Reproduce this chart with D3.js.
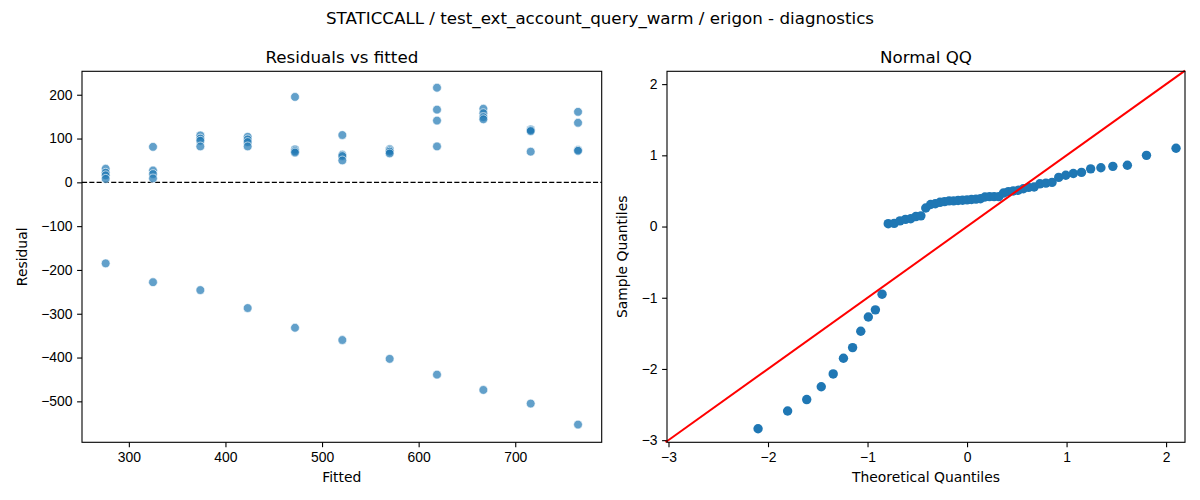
<!DOCTYPE html>
<html>
<head>
<meta charset="utf-8">
<script src="https://cdn.jsdelivr.net/npm/d3@7"></script>
<style>
  body { margin: 0; background: #fff; }
  svg { font-family: "DejaVu Sans", sans-serif; }
  .tick text { font-size: 13.9px; fill: #000; }
  .domain, .tick line { stroke: #000; stroke-width: 1.1px; }
</style>
</head>
<body>
<div class="chart"></div>
<script>
// fitted values (one per configuration)
var fitted = [276, 325, 374, 423, 472, 521, 570, 619, 667, 716, 765];

// residuals for each fitted value, 5 runs each
var residuals = [
  [31, 22, 16, 8, -185],
  [81, 27, 19, 9, -228],
  [107, 100, 95, 82, -246],
  [104, 98, 92, 82, -287],
  [195, 75, 71, 68, -332],
  [108, 63, 60, 50, -360],
  [76, 73, 70, 66, -403],
  [216, 166, 141, 82, -439],
  [168, 158, 149, 144, -474],
  [121, 119, 117, 70, -505],
  [161, 136, 74, 72, -553]
];

// normal QQ: theoretical quantiles and ordered standardized residuals
var theoretical = [
  -2.100, -1.803, -1.611, -1.465, -1.345, -1.242, -1.150, -1.068, -0.992, -0.921, -0.854,
  -0.792, -0.732, -0.674, -0.619, -0.566, -0.514, -0.464, -0.415, -0.366, -0.319, -0.272,
  -0.226, -0.180, -0.135, -0.090, -0.045, 0, 0.045, 0.090, 0.135, 0.180, 0.226,
  0.272, 0.319, 0.366, 0.415, 0.464, 0.514, 0.566, 0.619, 0.674, 0.732, 0.792,
  0.854, 0.921, 0.992, 1.068, 1.150, 1.242, 1.345, 1.465, 1.611, 1.803, 2.100
];
var sampleQ = [
  -2.84, -2.59, -2.43, -2.25, -2.07, -1.85, -1.70, -1.47, -1.27, -1.17, -0.95,
  0.04, 0.045, 0.08, 0.10, 0.11, 0.14, 0.15, 0.26, 0.31, 0.32, 0.34,
  0.35, 0.36, 0.36, 0.365, 0.37, 0.375, 0.38, 0.385, 0.39, 0.415, 0.42,
  0.42, 0.42, 0.47, 0.49, 0.50, 0.51, 0.53, 0.55, 0.555, 0.60, 0.61,
  0.62, 0.69, 0.72, 0.745, 0.76, 0.81, 0.825, 0.845, 0.86, 1.00, 1.10
];

var residTicks = [-500, -400, -300, -200, -100, 0, 100, 200];
var fittedTicks = [300, 400, 500, 600, 700];
var qqTicks = [-3, -2, -1, 0, 1, 2];

var suptitle = 'STATICCALL / test_ext_account_query_warm / erigon - diagnostics';

var width = 1200, height = 500;
var plotTop = 71.3, plotBottom = 442.3;

var fmt = function (d) {
    return String(d).replace('-', '\u2212');
};

var svg = d3.select('.chart')
    .append('svg')
    .attr('width', width)
    .attr('height', height);

svg.append('text')
    .attr('x', 600)
    .attr('y', 24)
    .attr('text-anchor', 'middle')
    .style('font-size', '16.7px')
    .text(suptitle);

function frame(x, y, xTicks, yTicks, left, right, title, xLabel, yLabel, yLabelX) {
    var g = svg.append('g');

    g.append('g')
        .attr('transform', 'translate(0,' + plotBottom + ')')
        .call(d3.axisBottom(x).tickValues(xTicks).tickFormat(fmt)
            .tickSizeInner(4.9).tickSizeOuter(0).tickPadding(4.6));

    g.append('g')
        .attr('transform', 'translate(' + left + ',0)')
        .call(d3.axisLeft(y).tickValues(yTicks).tickFormat(fmt)
            .tickSizeInner(4.9).tickSizeOuter(0).tickPadding(4.6));

    g.selectAll('.domain').remove();

    g.append('text')
        .attr('x', (left + right) / 2)
        .attr('y', 63)
        .attr('text-anchor', 'middle')
        .style('font-size', '16.7px')
        .text(title);

    g.append('text')
        .attr('x', (left + right) / 2)
        .attr('y', 482)
        .attr('text-anchor', 'middle')
        .style('font-size', '13.9px')
        .text(xLabel);

    g.append('text')
        .attr('transform', 'translate(' + yLabelX + ',' + ((plotTop + plotBottom) / 2) + ') rotate(-90)')
        .attr('text-anchor', 'middle')
        .style('font-size', '13.9px')
        .text(yLabel);

    return g;
}

function border(left, right) {
    svg.append('rect')
        .attr('x', left)
        .attr('y', plotTop)
        .attr('width', right - left)
        .attr('height', plotBottom - plotTop)
        .attr('fill', 'none')
        .attr('stroke', '#000')
        .attr('stroke-width', 1.1);
}

// ---- residuals vs fitted ----
var lx = d3.scaleLinear().domain([251.5, 789.5]).range([82, 601.7]);
var ly = d3.scaleLinear().domain([-593.5, 253.5]).range([plotBottom, plotTop]);

var g1 = frame(lx, ly, fittedTicks, residTicks, 82, 601.7,
    'Residuals vs fitted', 'Fitted', 'Residual', 27);

g1.append('line')
    .attr('x1', lx.range()[0])
    .attr('x2', lx.range()[1])
    .attr('y1', ly(0))
    .attr('y2', ly(0))
    .attr('stroke', '#000')
    .attr('stroke-width', 1.4)
    .attr('stroke-dasharray', '5.1,2.2');

var pts = [];
fitted.forEach(function (f, i) {
    residuals[i].forEach(function (r) {
        pts.push({ x: f, y: r });
    });
});

g1.selectAll('circle')
    .data(pts)
    .enter()
    .append('circle')
    .attr('cx', function (d) { return lx(d.x); })
    .attr('cy', function (d) { return ly(d.y); })
    .attr('r', 4.4)
    .attr('fill', 'rgba(31,119,180,0.7)')
    .attr('stroke', 'rgba(255,255,255,0.7)')
    .attr('stroke-width', 0.9);

border(82, 601.7);

// ---- normal QQ ----
var qx = d3.scaleLinear().domain([-3.015, 2.19]).range([667, 1185]);
var qy = d3.scaleLinear().domain([-3.03, 2.18]).range([plotBottom, plotTop]);

var g2 = frame(qx, qy, qqTicks, qqTicks, 667, 1185,
    'Normal QQ', 'Theoretical Quantiles', 'Sample Quantiles', 627);

g2.selectAll('circle')
    .data(theoretical)
    .enter()
    .append('circle')
    .attr('cx', function (d) { return qx(d); })
    .attr('cy', function (d, i) { return qy(sampleQ[i]); })
    .attr('r', 4.7)
    .attr('fill', '#1f77b4');

// 45 degree reference line, corner to corner
var lim = [-3.03, 2.19];
g2.append('line')
    .attr('x1', qx(lim[0]))
    .attr('y1', qy(lim[0]))
    .attr('x2', qx(lim[1]))
    .attr('y2', qy(lim[1]))
    .attr('stroke', 'red')
    .attr('stroke-width', 2);

border(667, 1185);
</script>
</body>
</html>
